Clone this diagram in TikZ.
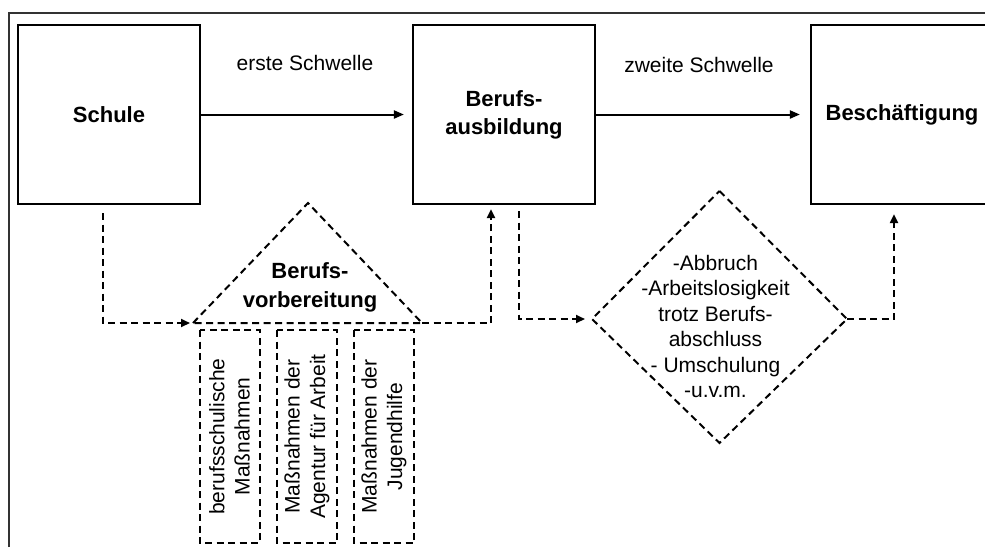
\documentclass[tikz,border=0pt]{standalone}
\usepackage{fontspec}
\setmainfont{Liberation Sans}
\usetikzlibrary{arrows.meta,calc}

\begin{document}
\begin{tikzpicture}[x=1pt,y=-1pt,
  box/.style={draw, line width=2.2pt, minimum width=182pt, minimum height=179pt,
    align=center, inner sep=0, font=\bfseries\fontsize{22}{28}\selectfont},
  lbl/.style={inner sep=0, align=center, font=\fontsize{21}{25.4}\selectfont},
  headlbl/.style={inner sep=0, align=center, font=\bfseries\fontsize{22}{29}\selectfont},
  flow/.style={line width=2pt, -{Triangle[length=10pt,width=8pt]}},
  dline/.style={line width=2pt, dash pattern=on 7pt off 4.5pt},
  dflow/.style={dline, -{Triangle[length=9pt,width=8pt]}},
  pillar/.style={draw, dline, rotate=90, minimum width=213pt, minimum height=60pt,
    inner sep=0, align=center, font=\fontsize{21}{25.4}\selectfont},
  frame/.style={draw=black!80, line width=1.5pt}
]
\useasboundingbox (0,0) rectangle (985,547);
\clip (0,0) rectangle (985,547);

% outer frame
\draw[frame] (9,547) -- (9,13) -- (985,13);

% main stations
\node[box] (schule) at (109,114.5) {Schule};
\node[box] (ausb) at (504,114.5) {Berufs-\\ausbildung};
\node[box] (besch) at (902,114.5) {Beschäftigung};

% thresholds
\draw[flow, shorten >=8pt] (schule.east) -- (ausb.west);
\draw[flow, shorten >=10pt] (ausb.east) -- (besch.west);
\node[lbl] (schwelle1) at (305,63) {erste Schwelle};
\node[lbl] (schwelle2) at (699,65) {zweite Schwelle};

% vocational preparation: roof and pillars
\coordinate (tL) at (193,323);
\coordinate (tR) at (422,323);
\coordinate (tT) at (308,203);
\draw[dline] (tL) -- (tT) -- (tR) -- cycle;
\node[headlbl] (vorb) at (310,287.5) {Berufs-\\vorbereitung};

\node[pillar] (p1) at (229.5,436.5) {berufsschulische\\Maßnahmen};
\node[pillar] (p2) at (307,436.5) {Maßnahmen der\\Agentur für Arbeit};
\node[pillar] (p3) at (384,436.5) {Maßnahmen der\\Jugendhilfe};

% transition problems
\coordinate (dT) at (719.5,191);
\coordinate (dR) at (847,319);
\coordinate (dB) at (719.5,443);
\coordinate (dL) at (592,319);
\draw[dline] (dT) -- (dR) -- (dB) -- (dL) -- cycle;
\node[lbl] (probleme) at (715.5,326.5)
  {-Abbruch\\-Arbeitslosigkeit\\trotz Berufs-\\abschluss\\- Umschulung\\-u.v.m.};

% dashed detours
\draw[dflow, shorten >=3pt] ($(schule.south)+(-6,8)$) |- (tL);
\draw[dflow] (tR) -| ($(ausb.south)+(-13,4)$);
\draw[dflow, shorten >=7pt] ($(ausb.south)+(15,6)$) |- (dL);
\draw[dflow] (dR) -| ($(besch.south)+(-8,9)$);
\end{tikzpicture}
\end{document}
